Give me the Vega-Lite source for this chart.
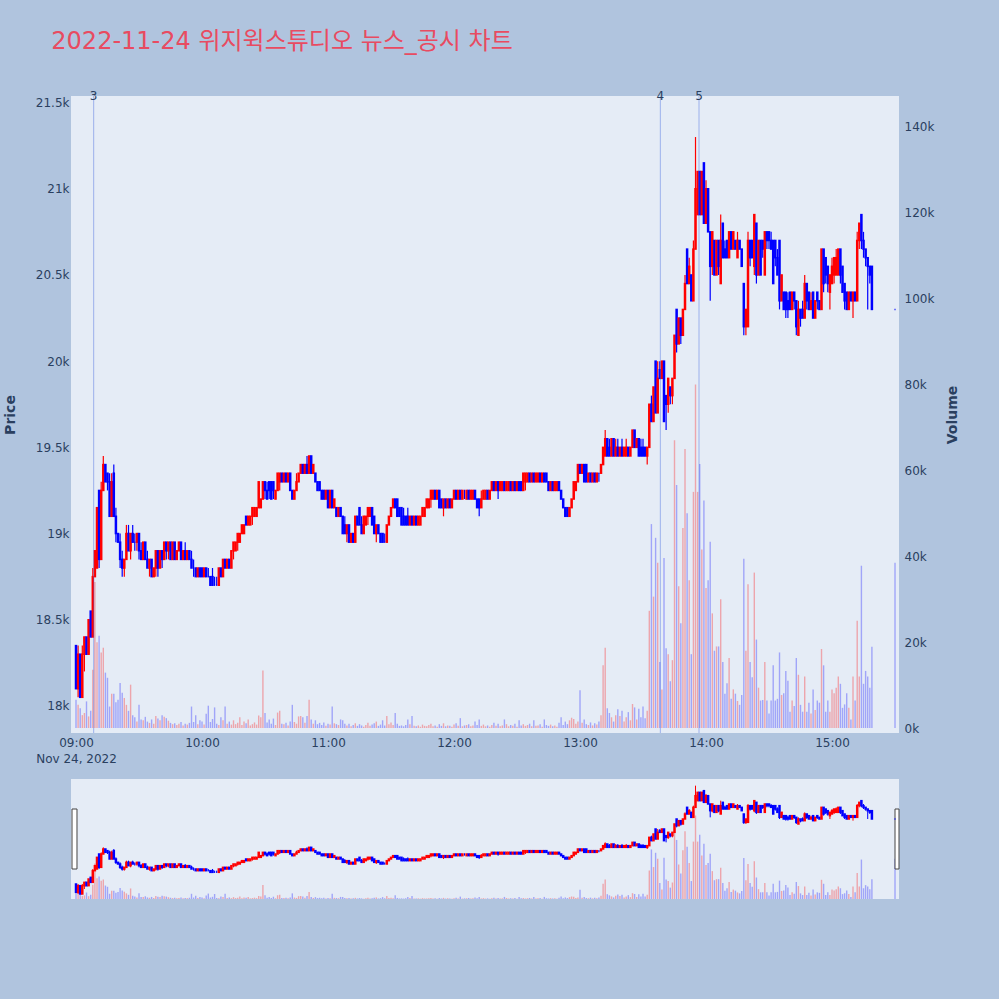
{
"$schema": "https://vega.github.io/schema/vega-lite/v6.json",
"background": "#B0C4DE",
"padding": {"left": 3, "right": 39, "top": 30, "bottom": 100},
"title": {"text": "2022-11-24 위지윅스튜디오 뉴스_공시 차트", "anchor": "start", "font": "DejaVu Sans, Noto Sans CJK KR", "fontSize": 24, "fontWeight": "normal", "color": "#E84B61", "dx": 48, "offset": 36},
"config": {
 "font": "DejaVu Sans",
 "view": {"stroke": null},
 "axis": {"labelFont": "DejaVu Sans", "labelFontSize": 12, "labelColor": "#2a3f5f", "titleFont": "DejaVu Sans", "titleFontSize": 14, "titleColor": "#2a3f5f", "titleFontWeight": "bold", "domain": false, "ticks": false}
},
"data": {"format": {"parse": {"t": "date:'%H:%M'"}}, "values": [
{"t":"09:00","o":18350,"h":18350,"l":18100,"c":18100,"v":6600},
{"t":"09:01","o":18100,"h":18350,"l":18050,"c":18300,"v":5400},
{"t":"09:02","o":18300,"h":18300,"l":18050,"c":18050,"v":4600},
{"t":"09:03","o":18050,"h":18350,"l":18050,"c":18300,"v":3000},
{"t":"09:04","o":18300,"h":18400,"l":18200,"c":18400,"v":3500},
{"t":"09:05","o":18400,"h":18400,"l":18300,"c":18300,"v":6200},
{"t":"09:06","o":18300,"h":18500,"l":18300,"c":18500,"v":2700},
{"t":"09:07","o":18550,"h":18550,"l":18400,"c":18400,"v":4000},
{"t":"09:08","o":18400,"h":18800,"l":18400,"c":18750,"v":13600},
{"t":"09:09","o":18750,"h":18900,"l":18750,"c":18900,"v":34000},
{"t":"09:10","o":18800,"h":19150,"l":18800,"c":19150,"v":20000},
{"t":"09:11","o":19250,"h":19250,"l":18800,"c":18850,"v":21500},
{"t":"09:12","o":18850,"h":19300,"l":18850,"c":19250,"v":17600},
{"t":"09:13","o":19250,"h":19450,"l":19250,"c":19400,"v":18700},
{"t":"09:14","o":19400,"h":19400,"l":19300,"c":19300,"v":12900},
{"t":"09:15","o":19350,"h":19350,"l":19250,"c":19300,"v":11700},
{"t":"09:16","o":19300,"h":19350,"l":19100,"c":19100,"v":5000},
{"t":"09:17","o":19100,"h":19350,"l":19100,"c":19300,"v":8000},
{"t":"09:18","o":19350,"h":19400,"l":19100,"c":19100,"v":8000},
{"t":"09:19","o":19100,"h":19150,"l":18950,"c":19000,"v":6000},
{"t":"09:20","o":19000,"h":19000,"l":18950,"c":18950,"v":6600},
{"t":"09:21","o":18950,"h":19000,"l":18800,"c":18850,"v":10500},
{"t":"09:22","o":18850,"h":18900,"l":18750,"c":18800,"v":8200},
{"t":"09:23","o":18800,"h":18850,"l":18750,"c":18850,"v":7000},
{"t":"09:24","o":18850,"h":19050,"l":18850,"c":19000,"v":5400},
{"t":"09:25","o":19000,"h":19050,"l":18900,"c":18900,"v":4000},
{"t":"09:26","o":18900,"h":19000,"l":18850,"c":19000,"v":10100},
{"t":"09:27","o":19000,"h":19050,"l":18950,"c":18950,"v":3000},
{"t":"09:28","o":18950,"h":19000,"l":18900,"c":18950,"v":2500},
{"t":"09:29","o":18950,"h":19000,"l":18900,"c":19000,"v":1500},
{"t":"09:30","o":19000,"h":19000,"l":18850,"c":18900,"v":5400},
{"t":"09:31","o":18900,"h":18950,"l":18850,"c":18850,"v":2000},
{"t":"09:32","o":18850,"h":18950,"l":18850,"c":18950,"v":1800},
{"t":"09:33","o":18950,"h":18950,"l":18850,"c":18850,"v":2600},
{"t":"09:34","o":18850,"h":18900,"l":18800,"c":18800,"v":1500},
{"t":"09:35","o":18800,"h":18850,"l":18750,"c":18850,"v":1200},
{"t":"09:36","o":18850,"h":18850,"l":18750,"c":18750,"v":2000},
{"t":"09:37","o":18750,"h":18800,"l":18750,"c":18800,"v":1000},
{"t":"09:38","o":18800,"h":18900,"l":18750,"c":18900,"v":2800},
{"t":"09:39","o":18900,"h":18900,"l":18750,"c":18800,"v":2200},
{"t":"09:40","o":18800,"h":18900,"l":18800,"c":18900,"v":1800},
{"t":"09:41","o":18900,"h":18900,"l":18800,"c":18850,"v":3000},
{"t":"09:42","o":18850,"h":18950,"l":18850,"c":18950,"v":2600},
{"t":"09:43","o":18950,"h":18950,"l":18850,"c":18900,"v":2300},
{"t":"09:44","o":18900,"h":18950,"l":18850,"c":18950,"v":1700},
{"t":"09:45","o":18950,"h":18950,"l":18850,"c":18850,"v":1200},
{"t":"09:46","o":18850,"h":18950,"l":18850,"c":18950,"v":900},
{"t":"09:47","o":18950,"h":18950,"l":18850,"c":18850,"v":1100},
{"t":"09:48","o":18850,"h":18900,"l":18850,"c":18900,"v":700},
{"t":"09:49","o":18900,"h":18950,"l":18900,"c":18950,"v":1000},
{"t":"09:50","o":18950,"h":18950,"l":18850,"c":18850,"v":1400},
{"t":"09:51","o":18850,"h":18900,"l":18850,"c":18900,"v":600},
{"t":"09:52","o":18900,"h":18950,"l":18850,"c":18850,"v":1000},
{"t":"09:53","o":18850,"h":18900,"l":18850,"c":18900,"v":800},
{"t":"09:54","o":18900,"h":18900,"l":18850,"c":18850,"v":1200},
{"t":"09:55","o":18850,"h":18900,"l":18800,"c":18800,"v":5000},
{"t":"09:56","o":18800,"h":18850,"l":18750,"c":18800,"v":1400},
{"t":"09:57","o":18800,"h":18800,"l":18750,"c":18750,"v":3000},
{"t":"09:58","o":18750,"h":18800,"l":18750,"c":18800,"v":900},
{"t":"09:59","o":18800,"h":18800,"l":18750,"c":18750,"v":1800},
{"t":"10:00","o":18800,"h":18800,"l":18750,"c":18750,"v":1500},
{"t":"10:01","o":18750,"h":18800,"l":18750,"c":18800,"v":800},
{"t":"10:02","o":18800,"h":18800,"l":18750,"c":18750,"v":3300},
{"t":"10:03","o":18750,"h":18800,"l":18750,"c":18750,"v":5200},
{"t":"10:04","o":18750,"h":18750,"l":18700,"c":18700,"v":1400},
{"t":"10:05","o":18750,"h":18800,"l":18700,"c":18700,"v":2100},
{"t":"10:06","o":18700,"h":18750,"l":18700,"c":18700,"v":4800},
{"t":"10:07","o":18700,"h":18750,"l":18700,"c":18700,"v":1000},
{"t":"10:08","o":18700,"h":18800,"l":18700,"c":18800,"v":700},
{"t":"10:09","o":18800,"h":18800,"l":18750,"c":18750,"v":2500},
{"t":"10:10","o":18750,"h":18850,"l":18750,"c":18850,"v":1800},
{"t":"10:11","o":18850,"h":18850,"l":18800,"c":18800,"v":5000},
{"t":"10:12","o":18800,"h":18850,"l":18800,"c":18850,"v":1000},
{"t":"10:13","o":18850,"h":18850,"l":18800,"c":18800,"v":1500},
{"t":"10:14","o":18800,"h":18900,"l":18800,"c":18900,"v":800},
{"t":"10:15","o":18900,"h":18950,"l":18850,"c":18950,"v":1800},
{"t":"10:16","o":18900,"h":18950,"l":18900,"c":18950,"v":900},
{"t":"10:17","o":18950,"h":19000,"l":18900,"c":19000,"v":1200},
{"t":"10:18","o":18950,"h":19000,"l":18950,"c":19000,"v":2500},
{"t":"10:19","o":19000,"h":19050,"l":19000,"c":19050,"v":700},
{"t":"10:20","o":19000,"h":19050,"l":19000,"c":19050,"v":1500},
{"t":"10:21","o":19100,"h":19100,"l":19050,"c":19050,"v":1100},
{"t":"10:22","o":19050,"h":19100,"l":19050,"c":19100,"v":2000},
{"t":"10:23","o":19050,"h":19100,"l":19050,"c":19100,"v":600},
{"t":"10:24","o":19100,"h":19150,"l":19050,"c":19150,"v":900},
{"t":"10:25","o":19100,"h":19150,"l":19100,"c":19150,"v":1300},
{"t":"10:26","o":19100,"h":19150,"l":19100,"c":19150,"v":800},
{"t":"10:27","o":19150,"h":19300,"l":19150,"c":19300,"v":2900},
{"t":"10:28","o":19150,"h":19200,"l":19150,"c":19200,"v":2500},
{"t":"10:29","o":19200,"h":19300,"l":19200,"c":19300,"v":13400},
{"t":"10:30","o":19300,"h":19300,"l":19200,"c":19250,"v":3500},
{"t":"10:31","o":19250,"h":19300,"l":19200,"c":19200,"v":1300},
{"t":"10:32","o":19300,"h":19300,"l":19200,"c":19250,"v":2000},
{"t":"10:33","o":19300,"h":19300,"l":19200,"c":19200,"v":1000},
{"t":"10:34","o":19300,"h":19300,"l":19200,"c":19250,"v":2200},
{"t":"10:35","o":19200,"h":19250,"l":19200,"c":19250,"v":700},
{"t":"10:36","o":19250,"h":19350,"l":19250,"c":19350,"v":3600},
{"t":"10:37","o":19300,"h":19350,"l":19250,"c":19350,"v":4000},
{"t":"10:38","o":19350,"h":19350,"l":19300,"c":19300,"v":1000},
{"t":"10:39","o":19300,"h":19350,"l":19300,"c":19350,"v":900},
{"t":"10:40","o":19350,"h":19350,"l":19300,"c":19300,"v":1200},
{"t":"10:41","o":19300,"h":19350,"l":19300,"c":19350,"v":600},
{"t":"10:42","o":19350,"h":19350,"l":19250,"c":19250,"v":1500},
{"t":"10:43","o":19250,"h":19250,"l":19200,"c":19200,"v":5400},
{"t":"10:44","o":19200,"h":19250,"l":19200,"c":19250,"v":1400},
{"t":"10:45","o":19250,"h":19350,"l":19250,"c":19300,"v":1000},
{"t":"10:46","o":19300,"h":19350,"l":19300,"c":19350,"v":2700},
{"t":"10:47","o":19350,"h":19400,"l":19350,"c":19400,"v":2800},
{"t":"10:48","o":19400,"h":19400,"l":19350,"c":19350,"v":2500},
{"t":"10:49","o":19350,"h":19400,"l":19350,"c":19400,"v":1200},
{"t":"10:50","o":19400,"h":19450,"l":19350,"c":19350,"v":2800},
{"t":"10:51","o":19350,"h":19450,"l":19350,"c":19450,"v":6600},
{"t":"10:52","o":19450,"h":19450,"l":19350,"c":19350,"v":2000},
{"t":"10:53","o":19350,"h":19400,"l":19350,"c":19400,"v":1000},
{"t":"10:54","o":19350,"h":19350,"l":19300,"c":19300,"v":1800},
{"t":"10:55","o":19300,"h":19300,"l":19250,"c":19250,"v":900},
{"t":"10:56","o":19300,"h":19300,"l":19250,"c":19250,"v":1200},
{"t":"10:57","o":19250,"h":19250,"l":19200,"c":19200,"v":700},
{"t":"10:58","o":19250,"h":19250,"l":19200,"c":19200,"v":1300},
{"t":"10:59","o":19200,"h":19250,"l":19200,"c":19250,"v":500},
{"t":"11:00","o":19250,"h":19250,"l":19150,"c":19150,"v":1000},
{"t":"11:01","o":19150,"h":19250,"l":19150,"c":19250,"v":800},
{"t":"11:02","o":19250,"h":19250,"l":19150,"c":19150,"v":5000},
{"t":"11:03","o":19150,"h":19200,"l":19150,"c":19200,"v":1100},
{"t":"11:04","o":19150,"h":19150,"l":19100,"c":19100,"v":900},
{"t":"11:05","o":19100,"h":19150,"l":19100,"c":19150,"v":700},
{"t":"11:06","o":19150,"h":19150,"l":19100,"c":19100,"v":2000},
{"t":"11:07","o":19100,"h":19100,"l":19000,"c":19000,"v":1800},
{"t":"11:08","o":19050,"h":19100,"l":19000,"c":19000,"v":1000},
{"t":"11:09","o":19000,"h":19050,"l":18950,"c":19050,"v":600},
{"t":"11:10","o":19050,"h":19050,"l":18950,"c":18950,"v":1000},
{"t":"11:11","o":18950,"h":19000,"l":18950,"c":19000,"v":400},
{"t":"11:12","o":19000,"h":19000,"l":18950,"c":18950,"v":700},
{"t":"11:13","o":18950,"h":19100,"l":18950,"c":19100,"v":1100},
{"t":"11:14","o":19100,"h":19100,"l":19050,"c":19050,"v":500},
{"t":"11:15","o":19150,"h":19150,"l":19050,"c":19050,"v":900},
{"t":"11:16","o":19050,"h":19100,"l":19000,"c":19000,"v":600},
{"t":"11:17","o":19000,"h":19100,"l":19000,"c":19100,"v":300},
{"t":"11:18","o":19050,"h":19100,"l":19050,"c":19100,"v":700},
{"t":"11:19","o":19100,"h":19150,"l":19050,"c":19150,"v":1200},
{"t":"11:20","o":19100,"h":19150,"l":19100,"c":19150,"v":500},
{"t":"11:21","o":19150,"h":19150,"l":19050,"c":19050,"v":800},
{"t":"11:22","o":19100,"h":19100,"l":19000,"c":19000,"v":1100},
{"t":"11:23","o":19000,"h":19050,"l":18950,"c":19050,"v":1500},
{"t":"11:24","o":19050,"h":19050,"l":19000,"c":19000,"v":500},
{"t":"11:25","o":19000,"h":19000,"l":18950,"c":18950,"v":800},
{"t":"11:26","o":19000,"h":19000,"l":18950,"c":18950,"v":1800},
{"t":"11:27","o":18950,"h":19000,"l":18950,"c":18950,"v":600},
{"t":"11:28","o":18950,"h":19050,"l":18950,"c":19050,"v":2800},
{"t":"11:29","o":19050,"h":19100,"l":19050,"c":19100,"v":900},
{"t":"11:30","o":19100,"h":19150,"l":19100,"c":19150,"v":1300},
{"t":"11:31","o":19150,"h":19200,"l":19150,"c":19200,"v":700},
{"t":"11:32","o":19200,"h":19200,"l":19150,"c":19150,"v":3500},
{"t":"11:33","o":19200,"h":19200,"l":19100,"c":19100,"v":1000},
{"t":"11:34","o":19150,"h":19150,"l":19100,"c":19100,"v":500},
{"t":"11:35","o":19150,"h":19150,"l":19050,"c":19050,"v":600},
{"t":"11:36","o":19100,"h":19150,"l":19050,"c":19050,"v":400},
{"t":"11:37","o":19100,"h":19100,"l":19050,"c":19050,"v":700},
{"t":"11:38","o":19100,"h":19150,"l":19050,"c":19050,"v":2000},
{"t":"11:39","o":19050,"h":19100,"l":19050,"c":19100,"v":900},
{"t":"11:40","o":19100,"h":19100,"l":19050,"c":19050,"v":2800},
{"t":"11:41","o":19050,"h":19100,"l":19050,"c":19100,"v":500},
{"t":"11:42","o":19100,"h":19100,"l":19050,"c":19050,"v":400},
{"t":"11:43","o":19050,"h":19100,"l":19050,"c":19100,"v":600},
{"t":"11:44","o":19050,"h":19100,"l":19050,"c":19100,"v":300},
{"t":"11:45","o":19100,"h":19150,"l":19100,"c":19150,"v":800},
{"t":"11:46","o":19100,"h":19150,"l":19100,"c":19150,"v":500},
{"t":"11:47","o":19150,"h":19200,"l":19150,"c":19200,"v":400},
{"t":"11:48","o":19150,"h":19200,"l":19150,"c":19200,"v":700},
{"t":"11:49","o":19200,"h":19250,"l":19150,"c":19250,"v":1000},
{"t":"11:50","o":19200,"h":19250,"l":19200,"c":19250,"v":400},
{"t":"11:51","o":19250,"h":19250,"l":19200,"c":19200,"v":600},
{"t":"11:52","o":19200,"h":19250,"l":19200,"c":19250,"v":300},
{"t":"11:53","o":19250,"h":19250,"l":19150,"c":19150,"v":900},
{"t":"11:54","o":19200,"h":19200,"l":19150,"c":19150,"v":500},
{"t":"11:55","o":19150,"h":19200,"l":19100,"c":19200,"v":1100},
{"t":"11:56","o":19200,"h":19200,"l":19150,"c":19150,"v":400},
{"t":"11:57","o":19150,"h":19200,"l":19150,"c":19200,"v":600},
{"t":"11:58","o":19200,"h":19200,"l":19150,"c":19150,"v":500},
{"t":"11:59","o":19150,"h":19200,"l":19150,"c":19200,"v":300},
{"t":"12:00","o":19200,"h":19250,"l":19200,"c":19250,"v":800},
{"t":"12:01","o":19250,"h":19250,"l":19200,"c":19200,"v":1100},
{"t":"12:02","o":19200,"h":19250,"l":19200,"c":19250,"v":500},
{"t":"12:03","o":19250,"h":19250,"l":19200,"c":19200,"v":2300},
{"t":"12:04","o":19200,"h":19250,"l":19200,"c":19250,"v":400},
{"t":"12:05","o":19250,"h":19250,"l":19200,"c":19250,"v":600},
{"t":"12:06","o":19200,"h":19250,"l":19200,"c":19250,"v":700},
{"t":"12:07","o":19250,"h":19250,"l":19200,"c":19200,"v":900},
{"t":"12:08","o":19200,"h":19250,"l":19200,"c":19250,"v":400},
{"t":"12:09","o":19200,"h":19250,"l":19200,"c":19250,"v":600},
{"t":"12:10","o":19250,"h":19250,"l":19200,"c":19200,"v":1500},
{"t":"12:11","o":19200,"h":19200,"l":19150,"c":19150,"v":700},
{"t":"12:12","o":19200,"h":19200,"l":19100,"c":19150,"v":2000},
{"t":"12:13","o":19150,"h":19250,"l":19150,"c":19200,"v":500},
{"t":"12:14","o":19200,"h":19250,"l":19200,"c":19250,"v":800},
{"t":"12:15","o":19200,"h":19250,"l":19200,"c":19250,"v":400},
{"t":"12:16","o":19250,"h":19250,"l":19200,"c":19200,"v":600},
{"t":"12:17","o":19200,"h":19250,"l":19200,"c":19250,"v":300},
{"t":"12:18","o":19250,"h":19300,"l":19250,"c":19300,"v":700},
{"t":"12:19","o":19300,"h":19300,"l":19250,"c":19250,"v":1200},
{"t":"12:20","o":19250,"h":19300,"l":19250,"c":19300,"v":500},
{"t":"12:21","o":19300,"h":19300,"l":19200,"c":19250,"v":1000},
{"t":"12:22","o":19250,"h":19300,"l":19250,"c":19300,"v":400},
{"t":"12:23","o":19250,"h":19300,"l":19250,"c":19300,"v":600},
{"t":"12:24","o":19300,"h":19300,"l":19250,"c":19250,"v":2000},
{"t":"12:25","o":19250,"h":19300,"l":19250,"c":19300,"v":900},
{"t":"12:26","o":19250,"h":19300,"l":19250,"c":19300,"v":400},
{"t":"12:27","o":19300,"h":19300,"l":19250,"c":19250,"v":700},
{"t":"12:28","o":19250,"h":19300,"l":19250,"c":19300,"v":500},
{"t":"12:29","o":19300,"h":19300,"l":19250,"c":19250,"v":1000},
{"t":"12:30","o":19250,"h":19300,"l":19250,"c":19300,"v":300},
{"t":"12:31","o":19300,"h":19300,"l":19250,"c":19250,"v":1800},
{"t":"12:32","o":19300,"h":19300,"l":19250,"c":19250,"v":600},
{"t":"12:33","o":19250,"h":19350,"l":19250,"c":19350,"v":900},
{"t":"12:34","o":19300,"h":19350,"l":19250,"c":19350,"v":500},
{"t":"12:35","o":19300,"h":19350,"l":19300,"c":19350,"v":700},
{"t":"12:36","o":19350,"h":19350,"l":19300,"c":19300,"v":1000},
{"t":"12:37","o":19300,"h":19350,"l":19300,"c":19350,"v":400},
{"t":"12:38","o":19350,"h":19350,"l":19300,"c":19300,"v":1800},
{"t":"12:39","o":19300,"h":19350,"l":19300,"c":19350,"v":500},
{"t":"12:40","o":19300,"h":19350,"l":19300,"c":19350,"v":600},
{"t":"12:41","o":19350,"h":19350,"l":19300,"c":19300,"v":900},
{"t":"12:42","o":19300,"h":19350,"l":19300,"c":19350,"v":300},
{"t":"12:43","o":19350,"h":19350,"l":19300,"c":19300,"v":2000},
{"t":"12:44","o":19350,"h":19350,"l":19300,"c":19300,"v":700},
{"t":"12:45","o":19300,"h":19300,"l":19250,"c":19250,"v":500},
{"t":"12:46","o":19250,"h":19300,"l":19250,"c":19300,"v":800},
{"t":"12:47","o":19300,"h":19300,"l":19250,"c":19250,"v":400},
{"t":"12:48","o":19250,"h":19300,"l":19250,"c":19300,"v":600},
{"t":"12:49","o":19250,"h":19300,"l":19250,"c":19300,"v":300},
{"t":"12:50","o":19300,"h":19300,"l":19250,"c":19250,"v":1200},
{"t":"12:51","o":19250,"h":19250,"l":19200,"c":19200,"v":2500},
{"t":"12:52","o":19200,"h":19200,"l":19150,"c":19150,"v":700},
{"t":"12:53","o":19150,"h":19150,"l":19100,"c":19100,"v":1500},
{"t":"12:54","o":19150,"h":19150,"l":19100,"c":19100,"v":900},
{"t":"12:55","o":19100,"h":19150,"l":19100,"c":19150,"v":1800},
{"t":"12:56","o":19150,"h":19200,"l":19150,"c":19200,"v":2400},
{"t":"12:57","o":19200,"h":19300,"l":19200,"c":19300,"v":2100},
{"t":"12:58","o":19250,"h":19300,"l":19250,"c":19300,"v":1000},
{"t":"12:59","o":19300,"h":19400,"l":19300,"c":19400,"v":1500},
{"t":"13:00","o":19400,"h":19400,"l":19350,"c":19350,"v":8800},
{"t":"13:01","o":19350,"h":19400,"l":19350,"c":19400,"v":1200},
{"t":"13:02","o":19400,"h":19400,"l":19300,"c":19300,"v":2000},
{"t":"13:03","o":19400,"h":19400,"l":19300,"c":19300,"v":900},
{"t":"13:04","o":19300,"h":19350,"l":19300,"c":19350,"v":700},
{"t":"13:05","o":19350,"h":19350,"l":19300,"c":19300,"v":1300},
{"t":"13:06","o":19300,"h":19350,"l":19300,"c":19350,"v":600},
{"t":"13:07","o":19350,"h":19350,"l":19300,"c":19300,"v":1100},
{"t":"13:08","o":19300,"h":19350,"l":19300,"c":19350,"v":800},
{"t":"13:09","o":19350,"h":19350,"l":19300,"c":19350,"v":1500},
{"t":"13:10","o":19350,"h":19400,"l":19350,"c":19400,"v":3000},
{"t":"13:11","o":19400,"h":19500,"l":19400,"c":19500,"v":14600},
{"t":"13:12","o":19450,"h":19600,"l":19450,"c":19550,"v":18700},
{"t":"13:13","o":19550,"h":19550,"l":19450,"c":19450,"v":4600},
{"t":"13:14","o":19500,"h":19550,"l":19450,"c":19450,"v":3500},
{"t":"13:15","o":19450,"h":19550,"l":19450,"c":19550,"v":2500},
{"t":"13:16","o":19550,"h":19550,"l":19450,"c":19450,"v":1500},
{"t":"13:17","o":19450,"h":19550,"l":19450,"c":19500,"v":3000},
{"t":"13:18","o":19500,"h":19550,"l":19450,"c":19450,"v":4400},
{"t":"13:19","o":19450,"h":19500,"l":19450,"c":19500,"v":2800},
{"t":"13:20","o":19500,"h":19550,"l":19450,"c":19450,"v":4000},
{"t":"13:21","o":19450,"h":19500,"l":19450,"c":19500,"v":1500},
{"t":"13:22","o":19450,"h":19550,"l":19450,"c":19500,"v":2500},
{"t":"13:23","o":19500,"h":19500,"l":19450,"c":19450,"v":3700},
{"t":"13:24","o":19450,"h":19500,"l":19450,"c":19500,"v":1800},
{"t":"13:25","o":19500,"h":19600,"l":19500,"c":19600,"v":5600},
{"t":"13:26","o":19600,"h":19600,"l":19500,"c":19500,"v":4800},
{"t":"13:27","o":19500,"h":19550,"l":19500,"c":19550,"v":2000},
{"t":"13:28","o":19550,"h":19550,"l":19450,"c":19450,"v":4500},
{"t":"13:29","o":19500,"h":19550,"l":19450,"c":19450,"v":2500},
{"t":"13:30","o":19500,"h":19550,"l":19450,"c":19450,"v":5000},
{"t":"13:31","o":19500,"h":19500,"l":19450,"c":19450,"v":2300},
{"t":"13:32","o":19450,"h":19500,"l":19400,"c":19500,"v":4000},
{"t":"13:33","o":19500,"h":19750,"l":19500,"c":19750,"v":27300},
{"t":"13:34","o":19750,"h":19800,"l":19650,"c":19650,"v":47500},
{"t":"13:35","o":19650,"h":19850,"l":19650,"c":19850,"v":30600},
{"t":"13:36","o":20000,"h":20000,"l":19700,"c":19700,"v":44300},
{"t":"13:37","o":19700,"h":20000,"l":19700,"c":19900,"v":38500},
{"t":"13:38","o":19950,"h":20000,"l":19900,"c":19900,"v":15400},
{"t":"13:39","o":19900,"h":20000,"l":19900,"c":20000,"v":9000},
{"t":"13:40","o":20000,"h":20000,"l":19650,"c":19650,"v":39600},
{"t":"13:41","o":19800,"h":19800,"l":19600,"c":19750,"v":18600},
{"t":"13:42","o":19750,"h":19900,"l":19700,"c":19900,"v":17200},
{"t":"13:43","o":19850,"h":19850,"l":19750,"c":19800,"v":10900},
{"t":"13:44","o":19800,"h":19900,"l":19750,"c":19900,"v":15800},
{"t":"13:45","o":19900,"h":20150,"l":19900,"c":20150,"v":67000},
{"t":"13:46","o":20300,"h":20300,"l":20050,"c":20100,"v":56600},
{"t":"13:47","o":20100,"h":20250,"l":20100,"c":20250,"v":33000},
{"t":"13:48","o":20250,"h":20250,"l":20100,"c":20150,"v":24400},
{"t":"13:49","o":20150,"h":20300,"l":20150,"c":20300,"v":46600},
{"t":"13:50","o":20300,"h":20500,"l":20300,"c":20450,"v":65000},
{"t":"13:51","o":20650,"h":20650,"l":20450,"c":20450,"v":50000},
{"t":"13:52","o":20450,"h":20600,"l":20450,"c":20550,"v":34400},
{"t":"13:53","o":20500,"h":20500,"l":20350,"c":20350,"v":17200},
{"t":"13:54","o":20350,"h":20700,"l":20350,"c":20650,"v":55000},
{"t":"13:55","o":20650,"h":21300,"l":20650,"c":21000,"v":80000},
{"t":"13:56","o":20850,"h":21100,"l":20850,"c":21100,"v":55000},
{"t":"13:57","o":21100,"h":21100,"l":20850,"c":20850,"v":61500},
{"t":"13:58","o":20850,"h":21100,"l":20850,"c":21100,"v":41600},
{"t":"13:59","o":21150,"h":21150,"l":20800,"c":20800,"v":53000},
{"t":"14:00","o":20800,"h":21050,"l":20800,"c":21000,"v":32600},
{"t":"14:01","o":21000,"h":21000,"l":20750,"c":20750,"v":34400},
{"t":"14:02","o":20750,"h":20750,"l":20350,"c":20550,"v":43400},
{"t":"14:03","o":20550,"h":20750,"l":20500,"c":20750,"v":26700},
{"t":"14:04","o":20700,"h":20700,"l":20500,"c":20500,"v":18000},
{"t":"14:05","o":20500,"h":20700,"l":20500,"c":20700,"v":19000},
{"t":"14:06","o":20700,"h":20700,"l":20500,"c":20550,"v":19000},
{"t":"14:07","o":20450,"h":20850,"l":20450,"c":20700,"v":30000},
{"t":"14:08","o":20800,"h":20800,"l":20600,"c":20600,"v":15400},
{"t":"14:09","o":20650,"h":20700,"l":20600,"c":20600,"v":8000},
{"t":"14:10","o":20700,"h":20700,"l":20600,"c":20600,"v":10400},
{"t":"14:11","o":20600,"h":20750,"l":20600,"c":20750,"v":16300},
{"t":"14:12","o":20750,"h":20750,"l":20650,"c":20650,"v":6800},
{"t":"14:13","o":20650,"h":20750,"l":20650,"c":20750,"v":9000},
{"t":"14:14","o":20700,"h":20700,"l":20650,"c":20650,"v":8000},
{"t":"14:15","o":20600,"h":20750,"l":20600,"c":20700,"v":6300},
{"t":"14:16","o":20700,"h":20700,"l":20650,"c":20650,"v":5400},
{"t":"14:17","o":20650,"h":20650,"l":20550,"c":20550,"v":7700},
{"t":"14:18","o":20450,"h":20450,"l":20150,"c":20200,"v":39400},
{"t":"14:19","o":20200,"h":20300,"l":20150,"c":20300,"v":18000},
{"t":"14:20","o":20200,"h":20750,"l":20200,"c":20700,"v":33500},
{"t":"14:21","o":20700,"h":20700,"l":20550,"c":20600,"v":15400},
{"t":"14:22","o":20700,"h":20700,"l":20600,"c":20600,"v":11800},
{"t":"14:23","o":20550,"h":20850,"l":20500,"c":20850,"v":36200},
{"t":"14:24","o":20800,"h":20800,"l":20450,"c":20500,"v":20600},
{"t":"14:25","o":20500,"h":20700,"l":20500,"c":20700,"v":9400},
{"t":"14:26","o":20700,"h":20700,"l":20500,"c":20500,"v":6400},
{"t":"14:27","o":20700,"h":20700,"l":20600,"c":20650,"v":6500},
{"t":"14:28","o":20500,"h":20750,"l":20500,"c":20750,"v":15400},
{"t":"14:29","o":20750,"h":20750,"l":20650,"c":20700,"v":6400},
{"t":"14:30","o":20750,"h":20750,"l":20650,"c":20700,"v":3400},
{"t":"14:31","o":20700,"h":20750,"l":20650,"c":20650,"v":6400},
{"t":"14:32","o":20700,"h":20700,"l":20450,"c":20450,"v":14600},
{"t":"14:33","o":20700,"h":20700,"l":20550,"c":20600,"v":6400},
{"t":"14:34","o":20600,"h":20650,"l":20500,"c":20500,"v":6800},
{"t":"14:35","o":20700,"h":20700,"l":20300,"c":20350,"v":17600},
{"t":"14:36","o":20350,"h":20500,"l":20350,"c":20500,"v":7700},
{"t":"14:37","o":20400,"h":20400,"l":20300,"c":20300,"v":8100},
{"t":"14:38","o":20400,"h":20400,"l":20250,"c":20300,"v":13300},
{"t":"14:39","o":20350,"h":20400,"l":20250,"c":20300,"v":11000},
{"t":"14:40","o":20400,"h":20400,"l":20300,"c":20300,"v":3800},
{"t":"14:41","o":20300,"h":20400,"l":20300,"c":20400,"v":6400},
{"t":"14:42","o":20400,"h":20400,"l":20300,"c":20350,"v":5100},
{"t":"14:43","o":20350,"h":20350,"l":20150,"c":20200,"v":16300},
{"t":"14:44","o":20150,"h":20350,"l":20150,"c":20300,"v":12400},
{"t":"14:45","o":20300,"h":20300,"l":20200,"c":20250,"v":5400},
{"t":"14:46","o":20300,"h":20350,"l":20250,"c":20250,"v":3800},
{"t":"14:47","o":20250,"h":20500,"l":20250,"c":20450,"v":12000},
{"t":"14:48","o":20450,"h":20450,"l":20300,"c":20350,"v":3800},
{"t":"14:49","o":20400,"h":20400,"l":20300,"c":20300,"v":5900},
{"t":"14:50","o":20300,"h":20400,"l":20300,"c":20350,"v":3400},
{"t":"14:51","o":20400,"h":20400,"l":20250,"c":20250,"v":9000},
{"t":"14:52","o":20250,"h":20350,"l":20250,"c":20350,"v":4200},
{"t":"14:53","o":20400,"h":20400,"l":20300,"c":20350,"v":6400},
{"t":"14:54","o":20350,"h":20350,"l":20300,"c":20300,"v":5900},
{"t":"14:55","o":20300,"h":20650,"l":20300,"c":20650,"v":18400},
{"t":"14:56","o":20650,"h":20650,"l":20400,"c":20450,"v":14600},
{"t":"14:57","o":20600,"h":20600,"l":20450,"c":20500,"v":3800},
{"t":"14:58","o":20550,"h":20550,"l":20400,"c":20450,"v":6400},
{"t":"14:59","o":20400,"h":20500,"l":20300,"c":20500,"v":3800},
{"t":"15:00","o":20450,"h":20600,"l":20450,"c":20550,"v":9000},
{"t":"15:01","o":20500,"h":20600,"l":20450,"c":20600,"v":8100},
{"t":"15:02","o":20500,"h":20650,"l":20500,"c":20600,"v":9400},
{"t":"15:03","o":20500,"h":20650,"l":20500,"c":20650,"v":12000},
{"t":"15:04","o":20650,"h":20650,"l":20450,"c":20500,"v":10300},
{"t":"15:05","o":20550,"h":20550,"l":20400,"c":20400,"v":4700},
{"t":"15:06","o":20450,"h":20450,"l":20300,"c":20350,"v":5500},
{"t":"15:07","o":20400,"h":20400,"l":20300,"c":20300,"v":8100},
{"t":"15:08","o":20300,"h":20400,"l":20300,"c":20400,"v":4700},
{"t":"15:09","o":20400,"h":20400,"l":20350,"c":20350,"v":2000},
{"t":"15:10","o":20350,"h":20400,"l":20250,"c":20400,"v":12000},
{"t":"15:11","o":20400,"h":20400,"l":20350,"c":20350,"v":6400},
{"t":"15:12","o":20350,"h":20750,"l":20350,"c":20700,"v":25000},
{"t":"15:13","o":20700,"h":20800,"l":20650,"c":20800,"v":12000},
{"t":"15:14","o":20850,"h":20850,"l":20650,"c":20700,"v":37800},
{"t":"15:15","o":20700,"h":20750,"l":20600,"c":20650,"v":10300},
{"t":"15:16","o":20650,"h":20650,"l":20550,"c":20600,"v":13300},
{"t":"15:17","o":20600,"h":20600,"l":20300,"c":20550,"v":12000},
{"t":"15:18","o":20550,"h":20550,"l":20450,"c":20500,"v":9400},
{"t":"15:19","o":20550,"h":20550,"l":20300,"c":20300,"v":18900},
{"t":"15:30","o":20300,"h":20300,"l":20300,"c":20300,"v":38500}
]},
"resolve": {"scale": {"x": "independent", "y": "independent"}},
"spacing": 15,
"vconcat": [
 {
  "width": 828, "height": 637,
  "view": {"fill": "#E5ECF6", "stroke": null},
  "resolve": {"scale": {"y": "independent"}},
  "layer": [
   {
    "layer": [
     {
      "mark": {"type": "rule", "color": "#ffffff", "strokeWidth": 1.5},
      "encoding": {
       "x": {"field": "t", "type": "temporal",
         "scale": {"domain": [{"year":1900,"month":1,"date":1,"hours":8,"minutes":57,"seconds":37},{"year":1900,"month":1,"date":1,"hours":15,"minutes":31,"seconds":54}], "padding": 0},
         "axis": {"title": "Nov 24, 2022", "titleFontWeight": "normal", "titleFontSize": 12, "titleAnchor": "start", "titleAlign": "center", "titleBaseline": "alphabetic", "titleX": 5, "titleY": 29, "grid": false, "format": "%H:%M", "tickCount": 7, "labelPadding": 4, "labelFlush": false}},
       "y": {"datum": 0, "type": "quantitative", "scale": {"domain": [-1160, 147200], "nice": false, "zero": false},
         "axis": {"orient": "right", "title": "Volume", "titleAngle": 270, "values": [0,20000,40000,60000,80000,100000,120000,140000], "format": "~s",
           "gridColor": "#999999", "gridWidth": 1.3, "labelPadding": 5, "titlePadding": 26}}
      }
     },
     {
      "mark": {"type": "bar", "size": 1.4, "opacity": 0.3},
      "encoding": {
       "x": {"field": "t", "type": "temporal"},
       "y": {"field": "v", "type": "quantitative"},
       "color": {"condition": {"test": "datum.c > datum.o", "value": "#ff0000"}, "value": "#0000ff"}
      }
     }
    ]
   },
   {
    "layer": [
     {
      "mark": {"type": "rule", "strokeWidth": 1.2},
      "encoding": {
       "x": {"field": "t", "type": "temporal"},
       "y": {"field": "l", "type": "quantitative", "scale": {"domain": [17843, 21538], "nice": false, "zero": false},
         "axis": {"orient": "left", "title": "Price", "values": [18000,18500,19000,19500,20000,20500,21000,21500], "format": "~s", "gridColor": "#ffffff", "gridWidth": 1.3, "labelPadding": 2, "titlePadding": 18}},
       "y2": {"field": "h"},
       "color": {"condition": {"test": "datum.c > datum.o", "value": "#ff0000"}, "value": "#0000ff"}
      }
     },
     {
      "mark": {"type": "bar", "size": 1, "strokeWidth": 1.5},
      "encoding": {
       "x": {"field": "t", "type": "temporal"},
       "y": {"field": "o", "type": "quantitative"},
       "y2": {"field": "c"},
       "color": {"condition": {"test": "datum.c > datum.o", "value": "#ff0000"}, "value": "#0000ff"},
       "stroke": {"condition": {"test": "datum.c > datum.o", "value": "#ff0000"}, "value": "#0000ff"}
      }
     },
     {
      "data": {"values": [{"et": "1900-01-01T09:08:25", "n": "3"}, {"et": "1900-01-01T13:38:15", "n": "4"}, {"et": "1900-01-01T13:56:40", "n": "5"}]},
      "mark": {"type": "rule", "color": "#4169E1", "opacity": 0.45, "strokeWidth": 1},
      "encoding": {"x": {"field": "et", "type": "temporal"}}
     },
     {
      "data": {"values": [{"et": "1900-01-01T09:08:25", "n": "3"}, {"et": "1900-01-01T13:38:15", "n": "4"}, {"et": "1900-01-01T13:56:40", "n": "5"}]},
      "mark": {"type": "text", "fontSize": 12, "color": "#2a3f5f", "baseline": "middle"},
      "encoding": {"x": {"field": "et", "type": "temporal"}, "y": {"datum": 21538, "type": "quantitative"}, "text": {"field": "n"}}
     }
    ]
   }
  ]
 },
 {
  "width": 828, "height": 120,
  "view": {"fill": "#E5ECF6", "stroke": null},
  "resolve": {"scale": {"y": "independent"}},
  "layer": [
   {
    "layer": [
     {
      "mark": {"type": "bar", "size": 1.4, "opacity": 0.3},
      "encoding": {
       "x": {"field": "t", "type": "temporal", "axis": null,
         "scale": {"domain": [{"year":1900,"month":1,"date":1,"hours":8,"minutes":57,"seconds":37},{"year":1900,"month":1,"date":1,"hours":15,"minutes":31,"seconds":54}], "padding": 0}},
       "y": {"field": "v", "type": "quantitative", "scale": {"domain": [0, 115000], "nice": false}, "axis": null},
       "color": {"condition": {"test": "datum.c > datum.o", "value": "#ff0000"}, "value": "#0000ff"}
      }
     },
     {
      "data": {"values": [{}]},
      "mark": {"type": "rect", "fill": "#ffffff", "stroke": "#444444", "strokeWidth": 1},
      "encoding": {
       "x": {"datum": {"year":1900,"month":1,"date":1,"hours":8,"minutes":58,"seconds":6}, "type": "temporal"},
       "x2": {"datum": {"year":1900,"month":1,"date":1,"hours":9,"minutes":0,"seconds":28}},
       "y": {"datum": 28750, "type": "quantitative"},
       "y2": {"datum": 86250}
      }
     },
     {
      "data": {"values": [{}]},
      "mark": {"type": "rect", "fill": "#ffffff", "stroke": "#444444", "strokeWidth": 1},
      "encoding": {
       "x": {"datum": {"year":1900,"month":1,"date":1,"hours":15,"minutes":30,"seconds":0}, "type": "temporal"},
       "x2": {"datum": {"year":1900,"month":1,"date":1,"hours":15,"minutes":31,"seconds":54}},
       "y": {"datum": 28750, "type": "quantitative"},
       "y2": {"datum": 86250}
      }
     }
    ]
   },
   {
    "layer": [
     {
      "mark": {"type": "rule", "strokeWidth": 1},
      "encoding": {
       "x": {"field": "t", "type": "temporal"},
       "y": {"field": "l", "type": "quantitative", "scale": {"domain": [17900, 21500], "nice": false, "zero": false}, "axis": null},
       "y2": {"field": "h"},
       "color": {"condition": {"test": "datum.c > datum.o", "value": "#ff0000"}, "value": "#0000ff"}
      }
     },
     {
      "mark": {"type": "bar", "size": 1, "strokeWidth": 1.5},
      "encoding": {
       "x": {"field": "t", "type": "temporal"},
       "y": {"field": "o", "type": "quantitative"},
       "y2": {"field": "c"},
       "color": {"condition": {"test": "datum.c > datum.o", "value": "#ff0000"}, "value": "#0000ff"},
       "stroke": {"condition": {"test": "datum.c > datum.o", "value": "#ff0000"}, "value": "#0000ff"}
      }
     }
    ]
   }
  ]
 }
]
}
